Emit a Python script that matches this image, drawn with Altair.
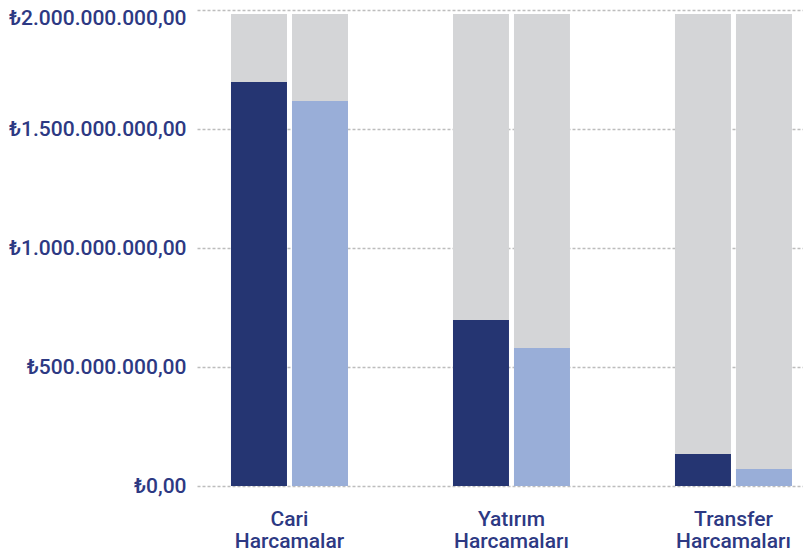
import altair as alt
import pandas as pd

categories = ["Cari Harcamalar", "Yatırım Harcamaları", "Transfer Harcamaları"]
series = ["Bütçe", "Gerçekleşen"]
dark_values = [1.697e9, 0.697e9, 0.134e9]
light_values = [1.618e9, 0.580e9, 0.071e9]
total_value = 1.983e9
y_ticks = [0, 5e8, 1e9, 1.5e9, 2e9]

rows = []
for c, d, l in zip(categories, dark_values, light_values):
    rows.append({"kategori": c, "seri": series[0], "deger": d, "toplam": total_value})
    rows.append({"kategori": c, "seri": series[1], "deger": l, "toplam": total_value})
df = pd.DataFrame(rows)

label_color = "#2d3983"
font = "Roboto"

x_enc = alt.X(
    "kategori:N",
    sort=categories,
    title=None,
    scale=alt.Scale(paddingInner=0.473, paddingOuter=0.1014, align=0.755),
    axis=alt.Axis(
        labelExpr="split(datum.label, ' ')",
        labelAngle=0,
        labelFont=font,
        labelFontSize=21,
        labelFontWeight=500,
        labelColor=label_color,
        labelLineHeight=22,
        labelPadding=22,
        ticks=False,
        domain=False,
        grid=False,
    ),
)
xoff = alt.XOffset("seri:N", sort=series, scale=alt.Scale(paddingInner=0.082, paddingOuter=0))

y_scale = alt.Scale(domain=[0, 2e9], nice=False)

bg = alt.Chart(df).mark_bar(color="#d4d5d7").encode(
    x=x_enc,
    xOffset=xoff,
    y=alt.Y(
        "toplam:Q",
        scale=y_scale,
        title=None,
        axis=alt.Axis(
            values=y_ticks,
            labelExpr="'₺' + replace(replace(replace(format(datum.value, ',.2f'), regexp(',', 'g'), '_'), regexp('\\\\.', 'g'), ','), regexp('_', 'g'), '.')",
            labelFont=font,
            labelFontSize=21,
            labelFontWeight=500,
            labelColor=label_color,
            labelPadding=11,
            labelOffset={"condition": {"test": "datum.value >= 2e9", "value": 8}, "value": 0},
            ticks=False,
            domain=False,
            grid=True,
            gridDash=[3, 2],
            gridColor="#bdbdbd",
            gridWidth=1.5,
        ),
    ),
)

fg = alt.Chart(df).mark_bar().encode(
    x=x_enc,
    xOffset=xoff,
    y=alt.Y("deger:Q", scale=y_scale),
    color=alt.Color(
        "seri:N",
        sort=series,
        scale=alt.Scale(domain=series, range=["#253572", "#99aed8"]),
        legend=None,
    ),
)

chart = (
    alt.layer(bg, fg)
    .properties(
        width=606,
        height=476,
        autosize=alt.AutoSizeParams(type="none"),
        padding={"left": 189, "top": 2, "right": 0, "bottom": 70},
    )
    .configure_view(stroke=None)
)

chart.save("out.html", embed_options={"renderer": "svg", "actions": False})
